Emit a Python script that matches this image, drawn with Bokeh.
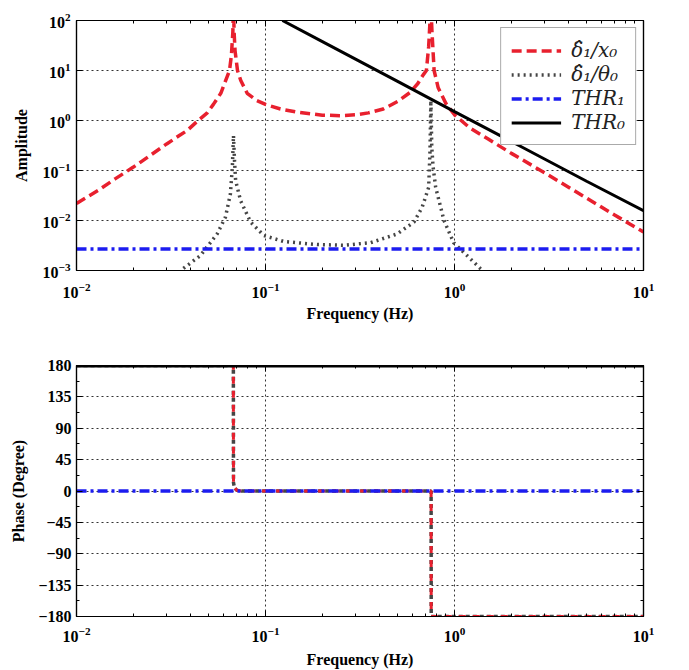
from bokeh.plotting import figure
from bokeh.layouts import column
from bokeh.models import FixedTicker, LogAxis, LinearAxis, Legend, LegendItem
from bokeh.embed import file_html
from bokeh.resources import INLINE

# ---------------- data ----------------
# Amplitude: delta1 / x0 (red dashed)
amp_x0_freq = [0.01, 0.013, 0.016, 0.02, 0.025, 0.03, 0.035, 0.0385, 0.044, 0.049, 0.053,
               0.058, 0.0645, 0.066, 0.0672, 0.0677, 0.0682, 0.069, 0.0711, 0.074, 0.08,
               0.09, 0.1, 0.12, 0.15, 0.2, 0.25, 0.3, 0.35, 0.42, 0.5, 0.58, 0.64, 0.68,
               0.71, 0.73, 0.74, 0.75, 0.76, 0.78, 0.82, 0.9, 1.0, 1.2, 1.5, 2.0, 3.0,
               5.0, 7.0, 10.0]
amp_x0 = [0.022, 0.04, 0.068, 0.117, 0.21, 0.34, 0.5, 0.63, 1.0, 1.4, 2.1,
          3.5, 10, 20, 60, 200, 60, 25, 10, 6.3, 3.5,
          2.5, 2.1, 1.7, 1.45, 1.28, 1.25, 1.3, 1.42, 1.7, 2.4, 3.6, 5.5, 8,
          10, 30, 80, 200, 60, 10, 4.5, 2.2, 1.3, 0.72, 0.43, 0.22, 0.09,
          0.028, 0.013, 0.0059]

# Amplitude: delta1 / theta0 (gray dotted)
amp_th_freq = [0.035, 0.0362, 0.0453, 0.0555, 0.0614, 0.0652, 0.0668, 0.0677, 0.0686,
               0.0695, 0.0738, 0.0834, 0.098, 0.125, 0.1876, 0.26, 0.36, 0.498, 0.61,
               0.675, 0.73, 0.742, 0.75, 0.758, 0.77, 0.795, 0.88, 0.99, 1.37, 1.45]
amp_th = [0.0009, 0.00105, 0.002, 0.0054, 0.0117, 0.034, 0.12, 0.5, 0.15,
          0.063, 0.025, 0.0093, 0.005, 0.0038, 0.0033, 0.0032, 0.0036, 0.0054, 0.0093,
          0.0186, 0.046, 0.25, 2.5, 0.3, 0.12, 0.046, 0.01, 0.0036, 0.0011, 0.0009]

# THR1 (blue dash-dot) and THR0 (black solid)
thr1_freq = [0.01, 10.0]
thr1_amp = [0.0027, 0.0027]
thr0_freq = [0.1229, 0.2, 0.5, 1.0, 2.0, 5.0, 10.0]
thr0_amp = [100.0, 37.8, 6.05, 1.5, 0.38, 0.061, 0.0158]

# Phase
phase_freq = [0.01, 0.0676, 0.0677, 0.0685, 0.0705, 0.075, 0.752, 0.753, 10.0]
phase_delta = [180, 180, 12, 5, 1, 0, 0, -180, -180]
phase_thr1_freq = [0.01, 10.0]
phase_thr1 = [0, 0]
phase_thr0_freq = [0.01, 10.0]
phase_thr0 = [180, 180]

x_ticks = [0.01, 0.1, 1.0, 10.0]
amp_ticks = [0.001, 0.01, 0.1, 1.0, 10.0, 100.0]
phase_ticks = [-180, -135, -90, -45, 0, 45, 90, 135, 180]

legend_labels = ["\u03b4\u0302\u2081/x\u2080", "\u03b4\u0302\u2081/\u03b8\u2080", "THR\u2081", "THR\u2080"]

# ---------------- styles ----------------
RED = "#e8202e"
GRAY = "#454545"
BLUE = "#1c1cf0"
FONT = "Liberation Serif"

x_minor = [m * d for d in [0.01, 0.1, 1.0] for m in range(2, 10)]
phase_minor = [-157.5, -112.5, -67.5, -22.5, 22.5, 67.5, 112.5, 157.5]


def style_axis(ax, show_labels=True):
    ax.major_tick_in = 6
    ax.major_tick_out = 0
    ax.minor_tick_in = 3
    ax.minor_tick_out = 0
    ax.axis_line_color = "black"
    ax.axis_line_width = 1.2
    ax.major_tick_line_color = "black"
    ax.minor_tick_line_color = "black"
    ax.major_label_text_font = FONT
    ax.major_label_text_font_style = "bold"
    ax.major_label_text_font_size = "16px"
    ax.major_label_text_color = "black"
    ax.axis_label_text_font = FONT
    ax.axis_label_text_font_style = "bold"
    ax.axis_label_text_font_size = "16px"
    ax.axis_label_text_color = "black"
    if not show_labels:
        ax.major_label_text_font_size = "2px"
        ax.major_label_text_alpha = 0
        ax.major_label_standoff = 0


def style_grid(p):
    for g in (p.xgrid[0], p.ygrid[0]):
        g.grid_line_color = "#333333"
        g.grid_line_dash = "2 3"
        g.grid_line_width = 1


# ---------------- amplitude figure ----------------
p1 = figure(x_axis_type="log", y_axis_type="log", frame_width=567, frame_height=250,
            x_range=(0.01, 10), y_range=(0.001, 100),
            min_border_left=76, min_border_right=46, min_border_top=20, min_border_bottom=55,
            output_backend="svg", toolbar_location=None)
p1.outline_line_color = "black"
p1.outline_line_width = 1.2

p1.xaxis.ticker = FixedTicker(ticks=x_ticks, minor_ticks=x_minor)
p1.yaxis.ticker = FixedTicker(ticks=amp_ticks, minor_ticks=[])
p1.xaxis.axis_label = "Frequency (Hz)"
p1.yaxis.axis_label = "Amplitude"
style_axis(p1.xaxis[0])
style_axis(p1.yaxis[0])
p1.xaxis.major_label_standoff = 12
p1.xaxis.axis_label_standoff = 4
p1.yaxis.major_label_standoff = 6
p1.yaxis.axis_label_standoff = 10
style_grid(p1)

top1 = LogAxis(ticker=FixedTicker(ticks=x_ticks, minor_ticks=x_minor))
right1 = LogAxis(ticker=FixedTicker(ticks=amp_ticks, minor_ticks=[]))
style_axis(top1, False)
style_axis(right1, False)
p1.add_layout(top1, "above")
p1.add_layout(right1, "right")

r_x0 = p1.line(amp_x0_freq, amp_x0, line_color=RED, line_width=3.5, line_dash="10 5")
r_th = p1.line(amp_th_freq, amp_th, line_color=GRAY, line_width=3.5, line_dash="2 4")
r_t1 = p1.line(thr1_freq, thr1_amp, line_color=BLUE, line_width=3.5, line_dash="10 4 3 4")
r_t0 = p1.line(thr0_freq, thr0_amp, line_color="black", line_width=3)

legend = Legend(items=[LegendItem(label=legend_labels[0], renderers=[r_x0]),
                       LegendItem(label=legend_labels[1], renderers=[r_th]),
                       LegendItem(label=legend_labels[2], renderers=[r_t1]),
                       LegendItem(label=legend_labels[3], renderers=[r_t0])],
                location="top_right")
legend.margin = 7
legend.padding = 10
legend.spacing = 0
legend.glyph_width = 50
legend.glyph_height = 21
legend.label_height = 21
legend.label_standoff = 10
legend.label_text_font = "DejaVu Serif"
legend.label_text_font_style = "italic"
legend.label_text_font_size = "20px"
legend.label_text_color = "#222222"
legend.border_line_color = "#555555"
legend.border_line_width = 1.2
legend.background_fill_color = "white"
legend.background_fill_alpha = 1
p1.add_layout(legend)

# ---------------- phase figure ----------------
p2 = figure(x_axis_type="log", frame_width=567, frame_height=251,
            x_range=(0.01, 10), y_range=(-180, 180),
            min_border_left=76, min_border_right=46, min_border_top=40, min_border_bottom=54,
            output_backend="svg", toolbar_location=None)
p2.outline_line_color = "black"
p2.outline_line_width = 1.2

p2.xaxis.ticker = FixedTicker(ticks=x_ticks, minor_ticks=x_minor)
p2.yaxis.ticker = FixedTicker(ticks=phase_ticks, minor_ticks=phase_minor)
p2.xaxis.axis_label = "Frequency (Hz)"
p2.yaxis.axis_label = "Phase (Degree)"
style_axis(p2.xaxis[0])
style_axis(p2.yaxis[0])
p2.xaxis.major_label_standoff = 10
p2.xaxis.axis_label_standoff = 6
p2.yaxis.major_label_standoff = 5
p2.yaxis.axis_label_standoff = 8
style_grid(p2)

top2 = LogAxis(ticker=FixedTicker(ticks=x_ticks, minor_ticks=x_minor))
right2 = LinearAxis(ticker=FixedTicker(ticks=phase_ticks, minor_ticks=phase_minor))
style_axis(top2, False)
style_axis(right2, False)
p2.add_layout(top2, "above")
p2.add_layout(right2, "right")

p2.line(phase_freq, phase_delta, line_color=GRAY, line_width=3.5, line_dash="4 3")
p2.line(phase_freq, phase_delta, line_color=RED, line_width=3, line_dash="7 7")
p2.line(phase_thr1_freq, phase_thr1, line_color=BLUE, line_width=3.5, line_dash="10 4 3 4")
p2.line(phase_thr0_freq, phase_thr0, line_color="black", line_width=4)

layout = column(p1, p2, spacing=0)
open("out.html", "w").write(file_html(layout, INLINE))
